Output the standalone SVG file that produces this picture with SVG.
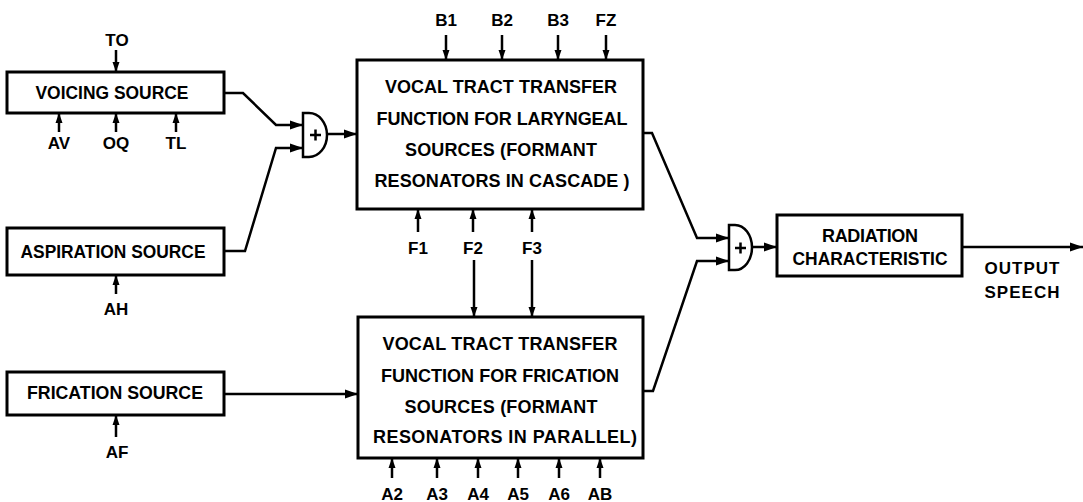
<svg xmlns="http://www.w3.org/2000/svg" width="1083" height="502" viewBox="0 0 1083 502">
<style>
.box{fill:#fff;stroke:#000;stroke-width:3}
.ln{fill:none;stroke:#000;stroke-width:2.5;stroke-linejoin:miter}
.big{marker-end:url(#ah)}
.sm{marker-end:url(#sa)}
text{font-family:"Liberation Sans",Arial,sans-serif;font-weight:bold;fill:#000;text-anchor:middle}
.t{font-size:18px}
.p{font-size:17px}
.add{fill:#fff;stroke:#000;stroke-width:2.5}
</style>
<defs>
<marker id="ah" markerUnits="userSpaceOnUse" markerWidth="14" markerHeight="10" refX="13" refY="5" orient="auto"><path d="M0,0.5 L13,5 L0,9.5 Z" fill="#000"/></marker>
<marker id="sa" markerUnits="userSpaceOnUse" markerWidth="11" markerHeight="9" refX="10" refY="4" orient="auto"><path d="M0,0.5 L10,4 L0,7.5 Z" fill="#000"/></marker>
</defs>
<rect width="1083" height="502" fill="#fff"/>

<g id="voicing">
<rect class="box" x="7" y="72" width="217" height="41"/>
<text class="t" x="112" y="99" textLength="153" lengthAdjust="spacingAndGlyphs">VOICING SOURCE</text>
</g>
<g id="aspiration">
<rect class="box" x="7" y="228" width="217" height="47"/>
<text class="t" x="113" y="258" textLength="185" lengthAdjust="spacingAndGlyphs">ASPIRATION SOURCE</text>
</g>
<g id="frication">
<rect class="box" x="7" y="372" width="217" height="43"/>
<text class="t" x="115" y="399" textLength="176" lengthAdjust="spacingAndGlyphs">FRICATION SOURCE</text>
</g>
<g id="cascade">
<rect class="box" x="357" y="60" width="286" height="149"/>
<text class="t" x="501" y="93" textLength="232">VOCAL TRACT TRANSFER</text>
<text class="t" x="502" y="125" textLength="251">FUNCTION FOR LARYNGEAL</text>
<text class="t" x="501" y="156" textLength="192">SOURCES (FORMANT</text>
<text class="t" x="502" y="187" textLength="255">RESONATORS IN CASCADE )</text>
</g>
<g id="parallel">
<rect class="box" x="358" y="317" width="285" height="141"/>
<text class="t" x="500" y="350" textLength="235">VOCAL TRACT TRANSFER</text>
<text class="t" x="500" y="382" textLength="238">FUNCTION FOR FRICATION</text>
<text class="t" x="501" y="413" textLength="193">SOURCES (FORMANT</text>
<text class="t" x="505" y="443" textLength="264">RESONATORS IN PARALLEL)</text>
</g>
<g id="radiation">
<rect class="box" x="777" y="215" width="185" height="61"/>
<text class="t" x="870" y="242" textLength="96">RADIATION</text>
<text class="t" x="870" y="265" textLength="155" lengthAdjust="spacingAndGlyphs">CHARACTERISTIC</text>
</g>
<g id="adder1">
<path class="add" d="M303,113 H309 A18,22 0 0 1 309,157 H303 Z"/>
<path class="ln" d="M310,135 H321 M315.5,129.5 V140.5"/>
</g>
<g id="adder2">
<path class="add" d="M729,225 H735 A17,22.5 0 0 1 735,270 H729 Z"/>
<path class="ln" d="M735,248 H746 M740.5,242.5 V253.5"/>
</g>
<g id="output-label">
<text class="p" x="1022" y="274" textLength="75">OUTPUT</text>
<text class="p" x="1022" y="298" textLength="75">SPEECH</text>
</g>

<g id="connectors">
<path class="ln big" d="M224,93 H243 L276,125 H303"/>
<path class="ln big" d="M224,251 H245 L276,148 H303"/>
<path class="ln big" d="M327,134 H357"/>
<path class="ln big" d="M224,394 H358"/>
<path class="ln big" d="M643,133 H652 L697,238 H729"/>
<path class="ln big" d="M643,391 H653 L697,261 H729"/>
<path class="ln big" d="M752,247 H777"/>
<path class="ln big" d="M962,247 H1083"/>

<path class="ln sm" d="M116,50 V72"/>
<path class="ln sm" d="M59,132 V113"/>
<path class="ln sm" d="M116,132 V113"/>
<path class="ln sm" d="M176,132 V113"/>
<path class="ln sm" d="M116,294 V275"/>
<path class="ln sm" d="M116,437 V415"/>
<path class="ln sm" d="M446,35 V60"/>
<path class="ln sm" d="M502,35 V60"/>
<path class="ln sm" d="M558,35 V60"/>
<path class="ln sm" d="M606,35 V60"/>
<path class="ln sm" d="M418,232 V209"/>
<path class="ln sm" d="M473,232 V209"/>
<path class="ln sm" d="M532,232 V209"/>
<path class="ln sm" d="M474,260 V317"/>
<path class="ln sm" d="M532,260 V317"/>
<path class="ln sm" d="M392,478 V458"/>
<path class="ln sm" d="M437,478 V458"/>
<path class="ln sm" d="M478,478 V458"/>
<path class="ln sm" d="M518,478 V458"/>
<path class="ln sm" d="M559,478 V458"/>
<path class="ln sm" d="M600,478 V458"/>

<g id="param-labels">
<text class="p" x="117" y="46">TO</text>
<text class="p" x="59" y="149">AV</text>
<text class="p" x="116" y="149">OQ</text>
<text class="p" x="176" y="149">TL</text>
<text class="p" x="116" y="315">AH</text>
<text class="p" x="117" y="458">AF</text>
<text class="p" x="446" y="26">B1</text>
<text class="p" x="502" y="26">B2</text>
<text class="p" x="558" y="26">B3</text>
<text class="p" x="606" y="26">FZ</text>
<text class="p" x="418" y="254">F1</text>
<text class="p" x="473" y="254">F2</text>
<text class="p" x="532" y="254">F3</text>
<text class="p" x="392" y="500">A2</text>
<text class="p" x="437" y="500">A3</text>
<text class="p" x="478" y="500">A4</text>
<text class="p" x="518" y="500">A5</text>
<text class="p" x="559" y="500">A6</text>
<text class="p" x="600" y="500">AB</text>
</g>
</g>
</svg>
